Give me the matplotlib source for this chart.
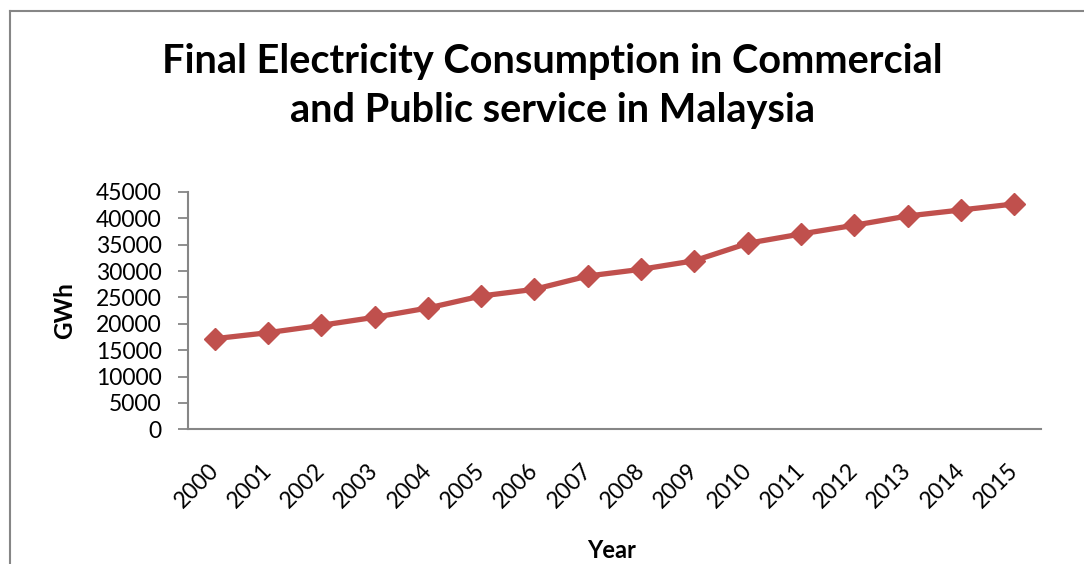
import matplotlib.pyplot as plt
from matplotlib.lines import Line2D
from matplotlib.transforms import ScaledTranslation

years = ['2000', '2001', '2002', '2003', '2004', '2005', '2006', '2007',
         '2008', '2009', '2010', '2011', '2012', '2013', '2014', '2015']
gwh = [17180, 18320, 19720, 21240, 23000, 25280, 26550, 29070,
       30340, 31970, 35270, 37040, 38690, 40450, 41590, 42730]
yticks = [0, 5000, 10000, 15000, 20000, 25000, 30000, 35000, 40000, 45000]

plt.rcParams['font.family'] = ['Lato', 'DejaVu Sans']

fig = plt.figure(figsize=(10.84, 5.64), dpi=100)
ax = fig.add_axes([0.1734, 0.2388, 0.7869, 0.4208])

x = list(range(len(years)))
ax.plot(x, gwh, color='#C0504D', lw=3.8, marker='D', markersize=11.5,
        markeredgecolor='#C0504D')

ax.set_xlim(-0.5, len(years) - 0.5)
ax.set_ylim(0, 45000)
ax.set_yticks(yticks)
ax.set_yticklabels([str(v) for v in yticks], fontsize=16.5)
ax.set_xticks(x)
ax.set_xticklabels(years, fontsize=16.5, rotation=45, ha='right',
                   rotation_mode='anchor')
ax.tick_params(axis='x', length=0, pad=22)
ax.tick_params(axis='y', length=7, width=1.3, color='#868686', pad=12)

# nudge rotated year labels to the left like the original
shift = ScaledTranslation(-7 / 100, 0, fig.dpi_scale_trans)
for lab in ax.get_xticklabels():
    lab.set_transform(lab.get_transform() + shift)

for s in ['top', 'right']:
    ax.spines[s].set_visible(False)
for s in ['left', 'bottom']:
    ax.spines[s].set_color('#868686')
    ax.spines[s].set_linewidth(1.5)

ax.set_ylabel('GWh', fontsize=17.5, fontweight='bold', labelpad=14)
fig.text(612 / 1084, 1 - 551 / 564, 'Year', fontsize=17, fontweight='bold',
         ha='center', va='center')

fig.text(552 / 1084, 1 - 86 / 564,
         'Final Electricity Consumption in Commercial\nand Public service in Malaysia',
         fontsize=28.5, fontweight='bold', ha='center', va='center', linespacing=1.38)

# outer chart border (left and top edges visible)
fig.add_artist(Line2D([10 / 1084, 10 / 1084], [0, 1 - 11 / 564],
                      transform=fig.transFigure, color='#868686', lw=1.5))
fig.add_artist(Line2D([10 / 1084, 1], [1 - 11 / 564, 1 - 11 / 564],
                      transform=fig.transFigure, color='#868686', lw=1.5))

fig.savefig('out.png', dpi=100)
